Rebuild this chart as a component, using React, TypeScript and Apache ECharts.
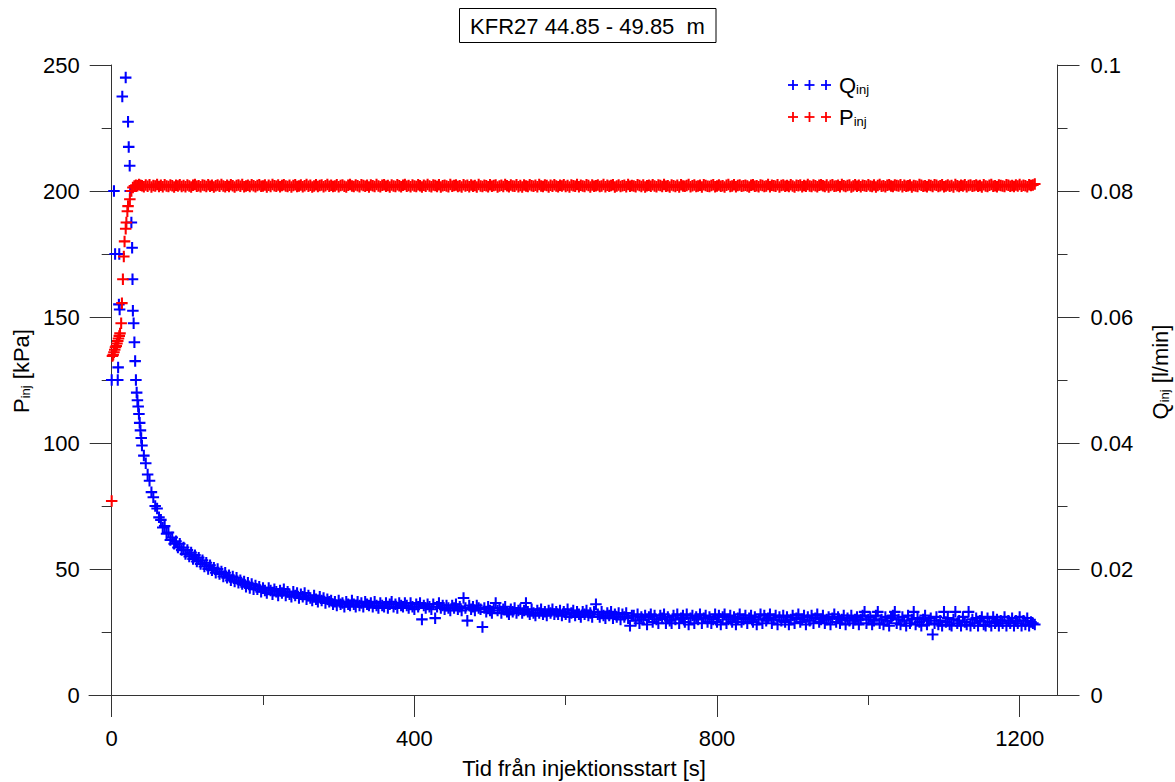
import React, { useEffect, useRef } from "react";
import * as echarts from "echarts";

// ---------- data ----------
const TITLE = "KFR27 44.85 - 49.85  m";
const X_NAME = "Tid från injektionsstart [s]";
const X_MAJOR = [0, 400, 800, 1200];
const X_MINOR = [200, 600, 1000];

// early, irregularly spaced readings (s)
const qEarlyTime = [0, 3, 4.5, 8, 8.5, 9.5, 10, 10.5, 14, 18.5, 21.6, 22.5, 23.8, 24.5, 26, 27, 27.5, 28, 29, 30, 31, 32, 33, 34, 35, 36, 37, 38, 39];
const qEarly = [0.05, 0.08, 0.07, 0.05, 0.052, 0.062, 0.07, 0.0612, 0.095, 0.098, 0.091, 0.087, 0.084, 0.08, 0.075, 0.071, 0.066, 0.061, 0.059, 0.056, 0.053, 0.05, 0.048, 0.0468, 0.0458, 0.0446, 0.0432, 0.042, 0.0408];

const pEarlyTime = [0, 1, 2, 3, 4, 5, 6, 7, 8, 9, 10, 11, 12.5, 13.5, 14.8, 16, 17, 18.5, 19.4, 20.7, 21.6, 24, 26, 28, 30, 32, 34, 36, 38];
const pEarly = [77, 134.5, 135, 136, 137, 138, 138.5, 139.5, 140.5, 141.5, 142.5, 143.5, 147.5, 155.5, 165, 174, 180, 185, 187.5, 192, 194, 196.7, 200, 201.4, 202, 202.3, 202.1, 202.6, 202.3];

// regularly sampled readings from 40 s, every 2.5 s (one row = 50 s)
const TAIL_START = 40;
const TAIL_STEP = 2.5;

const qTail = [
  0.0396, 0.038, 0.0368, 0.035, 0.034, 0.0322, 0.0314, 0.03, 0.0296, 0.0282, 0.0278, 0.0266, 0.0268, 0.0256, 0.0258, 0.0246, 0.025, 0.024, 0.0244, 0.0234,
  0.024, 0.023, 0.0234, 0.0224, 0.023, 0.022, 0.0226, 0.0216, 0.0222, 0.0212, 0.0218, 0.0208, 0.0214, 0.0204, 0.021, 0.02, 0.0206, 0.0198, 0.0202, 0.0194,
  0.02, 0.0192, 0.0196, 0.0188, 0.0194, 0.0186, 0.019, 0.0182, 0.0188, 0.018, 0.0186, 0.0178, 0.0182, 0.0176, 0.018, 0.0172, 0.0178, 0.017, 0.0176, 0.0168,
  0.0174, 0.0168, 0.0172, 0.0164, 0.017, 0.0166, 0.0162, 0.017, 0.0166, 0.016, 0.0168, 0.0164, 0.0158, 0.0166, 0.0162, 0.0168, 0.0158, 0.0164, 0.016, 0.0156,
  0.0164, 0.0158, 0.0162, 0.0154, 0.016, 0.0156, 0.0162, 0.0152, 0.0158, 0.0154, 0.015, 0.0158, 0.0152, 0.0148, 0.0156, 0.015, 0.0154, 0.0146, 0.0152, 0.0148,
  0.015, 0.0144, 0.0148, 0.0142, 0.015, 0.0144, 0.0146, 0.014, 0.0148, 0.0144, 0.0142, 0.015, 0.0144, 0.014, 0.0148, 0.0142, 0.0146, 0.014, 0.0148, 0.0144,
  0.0142, 0.0146, 0.014, 0.0148, 0.0142, 0.0138, 0.0146, 0.0142, 0.014, 0.0146, 0.0138, 0.0144, 0.0148, 0.014, 0.0144, 0.0138, 0.0146, 0.0142, 0.014, 0.0146,
  0.0142, 0.0138, 0.0146, 0.014, 0.0136, 0.0144, 0.014, 0.0146, 0.012, 0.0142, 0.0138, 0.0144, 0.014, 0.0136, 0.0144, 0.0122, 0.014, 0.0146, 0.0138, 0.0142,
  0.0136, 0.0142, 0.0138, 0.0134, 0.0142, 0.0138, 0.0144, 0.0136, 0.014, 0.0134, 0.0154, 0.0138, 0.0118, 0.0142, 0.0136, 0.014, 0.0134, 0.0142, 0.0138, 0.0136,
  0.0108, 0.0138, 0.0132, 0.014, 0.0134, 0.013, 0.0138, 0.0146, 0.0134, 0.0138, 0.013, 0.0136, 0.014, 0.0132, 0.0128, 0.0136, 0.0132, 0.0138, 0.013, 0.0134,
  0.0136, 0.013, 0.0134, 0.0146, 0.0132, 0.0128, 0.0136, 0.013, 0.0126, 0.0134, 0.013, 0.0136, 0.0128, 0.0132, 0.0126, 0.0134, 0.013, 0.0136, 0.0128, 0.0132,
  0.0128, 0.0134, 0.0126, 0.0132, 0.0128, 0.0136, 0.0124, 0.013, 0.0134, 0.0126, 0.0132, 0.0128, 0.0124, 0.0132, 0.0128, 0.0134, 0.0126, 0.013, 0.0124, 0.0132,
  0.0144, 0.0128, 0.0124, 0.0132, 0.0126, 0.0122, 0.013, 0.0126, 0.0132, 0.0122, 0.0128, 0.0124, 0.013, 0.012, 0.0128, 0.0124, 0.013, 0.0122, 0.011, 0.0126,
  0.0126, 0.0118, 0.0128, 0.0114, 0.0124, 0.012, 0.0126, 0.0112, 0.0124, 0.0128, 0.0116, 0.0126, 0.012, 0.0114, 0.0126, 0.0122, 0.0128, 0.0114, 0.0124, 0.0118,
  0.0114, 0.0126, 0.012, 0.0128, 0.0114, 0.0122, 0.0126, 0.0116, 0.0128, 0.0112, 0.0122, 0.0126, 0.0114, 0.0124, 0.012, 0.0128, 0.0114, 0.0122, 0.0126, 0.0116,
  0.0124, 0.0114, 0.012, 0.0128, 0.0116, 0.0126, 0.0112, 0.0124, 0.0128, 0.0114, 0.012, 0.0126, 0.0116, 0.0124, 0.0112, 0.0122, 0.0128, 0.0116, 0.012, 0.0126,
  0.0114, 0.0122, 0.0126, 0.0116, 0.0124, 0.0112, 0.012, 0.0128, 0.0114, 0.0126, 0.0118, 0.0122, 0.0128, 0.0114, 0.012, 0.0126, 0.0112, 0.0124, 0.0118, 0.0126,
  0.0116, 0.0124, 0.0112, 0.012, 0.0126, 0.0114, 0.0122, 0.0128, 0.0116, 0.012, 0.0126, 0.0112, 0.0124, 0.0118, 0.0126, 0.0114, 0.0122, 0.0128, 0.0116, 0.012,
  0.0126, 0.0114, 0.012, 0.0124, 0.0112, 0.0122, 0.0128, 0.0116, 0.0124, 0.0114, 0.012, 0.0126, 0.0112, 0.0122, 0.0118, 0.0126, 0.0114, 0.012, 0.0124, 0.0112,
  0.012, 0.0126, 0.0132, 0.0114, 0.012, 0.0124, 0.0112, 0.0118, 0.0126, 0.0132, 0.0114, 0.012, 0.0112, 0.0124, 0.0118, 0.011, 0.0122, 0.0126, 0.0132, 0.0114,
  0.012, 0.0112, 0.0124, 0.0118, 0.011, 0.0126, 0.0114, 0.012, 0.0132, 0.0112, 0.0122, 0.0116, 0.011, 0.012, 0.0126, 0.0112, 0.0118, 0.0122, 0.0096, 0.0114,
  0.0124, 0.0112, 0.0118, 0.011, 0.0132, 0.0116, 0.0122, 0.0112, 0.011, 0.012, 0.0132, 0.0114, 0.0118, 0.011, 0.0124, 0.0116, 0.0112, 0.0132, 0.011, 0.012,
  0.0114, 0.0122, 0.011, 0.0118, 0.0124, 0.0112, 0.011, 0.0122, 0.0116, 0.011, 0.0124, 0.0114, 0.012, 0.011, 0.0118, 0.0114, 0.0124, 0.011, 0.0118, 0.0114,
  0.0122, 0.011, 0.0118, 0.0114, 0.0124, 0.011, 0.0118, 0.0112, 0.0122, 0.011, 0.0116, 0.0114, 0.0112,
];

const pTail = [
  202.1, 201.7, 202.4, 201.9, 202.5, 201.6, 202.2, 202.0, 202.6, 201.8, 202.3, 201.7, 202.5, 202.0, 201.8, 202.4, 202.1, 201.6, 202.3, 202.0,
  202.5, 201.8, 202.2, 201.7, 202.4, 202.0, 201.6, 202.3, 202.6, 201.9, 202.1, 201.7, 202.4, 202.2, 201.8, 202.5, 201.9, 202.3, 201.6, 202.1,
  202.4, 201.9, 202.6, 202.0, 201.7, 202.3, 201.8, 202.5, 202.1, 201.6, 202.2, 202.4, 201.9, 202.6, 201.7, 202.0, 202.3, 201.8, 202.5, 202.1,
  201.7, 202.2, 202.5, 201.9, 202.0, 202.4, 201.6, 202.3, 201.8, 202.6, 202.1, 201.9, 202.4, 201.7, 202.2, 202.5, 202.0, 201.8, 202.3, 201.6,
  202.2, 202.5, 201.8, 202.0, 202.4, 201.7, 202.1, 202.6, 201.9, 202.3, 201.6, 202.0, 202.5, 201.8, 202.2, 202.4, 201.7, 202.1, 202.6, 201.9,
  202.3, 201.8, 202.0, 202.5, 201.7, 202.2, 202.4, 201.9, 201.6, 202.3, 202.6, 202.0, 201.8, 202.4, 202.1, 201.7, 202.5, 202.2, 201.9, 202.3,
  201.6, 202.4, 202.1, 201.8, 202.6, 202.0, 201.7, 202.3, 202.5, 201.9, 202.2, 201.6, 202.4, 202.0, 201.8, 202.5, 202.1, 201.7, 202.3, 202.6,
  201.9, 202.2, 201.7, 202.4, 202.0, 201.8, 202.5, 202.1, 201.6, 202.3, 201.9, 202.6, 202.0, 201.7, 202.4, 202.2, 201.8, 202.5, 201.6, 202.1,
  202.3, 202.0, 201.7, 202.6, 201.9, 202.2, 202.4, 201.8, 202.1, 201.6, 202.5, 202.0, 202.3, 201.7, 202.4, 201.9, 202.2, 201.6, 202.6, 202.0,
  201.8, 202.3, 202.1, 201.7, 202.5, 201.9, 202.2, 202.4, 201.6, 202.0, 202.3, 201.8, 202.6, 202.1, 201.7, 202.4, 202.0, 201.9, 202.5, 201.7,
  202.2, 201.6, 202.4, 202.0, 201.8, 202.5, 202.1, 201.9, 202.3, 201.7, 202.6, 202.0, 201.8, 202.4, 202.2, 201.6, 202.3, 201.9, 202.5, 202.0,
  201.7, 202.3, 202.0, 202.5, 201.8, 202.2, 201.6, 202.4, 202.1, 201.9, 202.6, 201.7, 202.3, 202.0, 201.8, 202.5, 202.2, 201.6, 202.4, 201.9,
  202.1, 202.4, 201.8, 202.0, 202.6, 201.7, 202.3, 201.9, 202.2, 202.5, 201.6, 202.0, 202.4, 201.8, 202.1, 202.3, 201.7, 202.6, 201.9, 202.2,
  202.0, 201.7, 202.5, 202.2, 201.8, 202.4, 201.6, 202.1, 202.3, 201.9, 202.5, 202.0, 201.7, 202.4, 202.2, 201.8, 202.6, 201.9, 202.1, 201.6,
  202.4, 202.1, 201.8, 202.3, 201.6, 202.5, 202.0, 201.9, 202.2, 202.6, 201.7, 202.1, 202.4, 201.8, 202.0, 202.3, 201.6, 202.5, 202.2, 201.9,
  201.8, 202.2, 202.5, 201.7, 202.0, 202.4, 201.9, 202.1, 201.6, 202.3, 202.6, 201.8, 202.0, 202.5, 201.7, 202.2, 202.4, 201.9, 202.1, 202.3,
  202.0, 201.6, 202.3, 202.5, 201.9, 202.1, 201.7, 202.4, 202.2, 201.8, 202.0, 202.6, 201.7, 202.3, 202.1, 201.9, 202.5, 201.6, 202.2, 202.4,
  201.9, 202.2, 201.8, 202.5, 202.0, 201.6, 202.3, 202.1, 202.4, 201.7, 202.2, 201.9, 202.6, 202.0, 201.8, 202.4, 202.1, 201.7, 202.3, 202.5,
  202.1, 201.8, 202.4, 201.6, 202.2, 202.5, 201.9, 202.0, 202.3, 201.7, 202.6, 202.1, 201.8, 202.2, 202.4, 201.6, 202.0, 202.5, 201.9, 202.3,
  201.7, 202.3, 202.1, 201.9, 202.5, 202.0, 201.8, 202.4, 201.6, 202.2, 202.6, 201.9, 202.1, 201.7, 202.3, 202.5, 202.0, 201.8, 202.4, 202.2,
  202.0, 202.5, 201.7, 202.3, 201.9, 202.1, 202.4, 201.6, 202.2, 202.0, 201.8, 202.6, 202.3, 201.9, 202.1, 201.7, 202.4, 202.2, 201.8, 202.5,
  202.3, 201.8, 202.1, 202.5, 201.7, 202.0, 202.4, 201.9, 202.2, 201.6, 202.6, 202.1, 201.8, 202.3, 202.0, 202.5, 201.7, 202.2, 202.4, 201.9,
  202.1, 202.4, 201.9, 202.2, 201.6, 202.5, 202.0, 201.8, 202.3, 202.6, 201.9, 202.1, 201.7, 202.4, 202.2, 202.0, 201.8, 202.5, 202.3, 201.9,
  202.2, 201.8, 202.4, 202.0, 202.6, 201.9, 202.3, 202.1, 201.7, 202.5, 202.2, 202.4, 202.8,
];

// ---------- styles ----------
const FONT = '"Liberation Sans", Arial, Helvetica, sans-serif';
const AXIS_COLOR = "#333333";
const BLUE = "#0000ff";
const RED = "#ff0000";
const PLUS = "path://M4.1,0H5.9V4.1H10V5.9H5.9V10H4.1V5.9H0V4.1H4.1Z";

const plusMark = (cx: number, cy: number, color: string) => [
  { type: "rect", shape: { x: cx - 5, y: cy - 0.9, width: 10, height: 1.8 }, style: { fill: color } },
  { type: "rect", shape: { x: cx - 0.9, y: cy - 5, width: 1.8, height: 10 }, style: { fill: color } },
];

const richSub = {
  m: { fontSize: 22, fontFamily: FONT, fill: "#000" },
  s: { fontSize: 13, fontFamily: FONT, fill: "#000", verticalAlign: "bottom", padding: [8, 0, 0, 0] },
};

export default function App() {
  const ref = useRef<HTMLDivElement>(null);

  useEffect(() => {
    if (!ref.current) return;
    const chart = echarts.init(ref.current, null, { renderer: "svg" });

    const qData = qEarlyTime
      .map((t, i) => [t, qEarly[i]])
      .concat(qTail.map((v, i) => [TAIL_START + i * TAIL_STEP, v]));
    const pData = pEarlyTime
      .map((t, i) => [t, pEarly[i]])
      .concat(pTail.map((v, i) => [TAIL_START + i * TAIL_STEP, v]));

    const labelStyle = { color: "#000", fontSize: 22, fontFamily: FONT };

    chart.setOption({
      animation: false,
      backgroundColor: "#ffffff",
      grid: { left: 89, right: 117.5, top: 65, bottom: 87, outerBoundsMode: "none", containLabel: false },
      xAxis: [
        {
          type: "value",
          min: -30,
          max: 1250,
          position: "bottom",
          axisLine: { show: true, onZero: false, lineStyle: { color: AXIS_COLOR, width: 1 } },
          axisTick: { show: true, customValues: X_MAJOR, length: 22, lineStyle: { color: AXIS_COLOR } },
          axisLabel: { ...labelStyle, customValues: X_MAJOR, margin: 32, formatter: (v: number) => String(v) },
          splitLine: { show: false },
        },
        {
          type: "value",
          min: -30,
          max: 1250,
          position: "bottom",
          offset: 0,
          axisLine: { show: false, onZero: false },
          axisTick: { show: true, customValues: X_MINOR, length: 10, lineStyle: { color: AXIS_COLOR } },
          axisLabel: { show: false },
          splitLine: { show: false },
        },
      ],
      yAxis: [
        {
          type: "value",
          min: 0,
          max: 250,
          interval: 50,
          position: "left",
          offset: -22.7,
          axisLine: { show: true, onZero: false, lineStyle: { color: AXIS_COLOR, width: 1 } },
          axisTick: { show: true, length: 22, lineStyle: { color: AXIS_COLOR } },
          minorTick: { show: true, splitNumber: 2, length: 10, lineStyle: { color: AXIS_COLOR } },
          axisLabel: { ...labelStyle, margin: 32 },
          splitLine: { show: false },
          minorSplitLine: { show: false },
        },
        {
          type: "value",
          min: 0,
          max: 0.1,
          interval: 0.02,
          position: "right",
          axisLine: { show: true, onZero: false, lineStyle: { color: AXIS_COLOR, width: 1 } },
          axisTick: { show: true, length: 22, lineStyle: { color: AXIS_COLOR } },
          minorTick: { show: true, splitNumber: 2, length: 10, lineStyle: { color: AXIS_COLOR } },
          axisLabel: { ...labelStyle, margin: 33 },
          splitLine: { show: false },
          minorSplitLine: { show: false },
        },
      ],
      series: [
        {
          name: "Qinj",
          type: "scatter",
          xAxisIndex: 0,
          yAxisIndex: 1,
          symbol: PLUS,
          symbolSize: 11.5,
          itemStyle: { color: BLUE, opacity: 1 },
          data: qData,
        },
        {
          name: "Pinj",
          type: "scatter",
          xAxisIndex: 0,
          yAxisIndex: 0,
          symbol: PLUS,
          symbolSize: 11.5,
          itemStyle: { color: RED, opacity: 1 },
          data: pData,
        },
      ],
      graphic: [
        {
          type: "rect",
          shape: { x: 459.5, y: 8.5, width: 256.5, height: 34 },
          style: { fill: "#ffffff", stroke: "#000", lineWidth: 1 },
        },
        {
          type: "text",
          x: 587.5,
          y: 26,
          style: { text: TITLE, fontSize: 22, fontFamily: FONT, fill: "#000", align: "center", verticalAlign: "middle" },
        },
        {
          type: "text",
          x: 584,
          y: 768,
          style: { text: X_NAME, fontSize: 22, fontFamily: FONT, fill: "#000", align: "center", verticalAlign: "middle" },
        },
        {
          type: "text",
          x: 21,
          y: 371,
          rotation: Math.PI / 2,
          style: { text: "{m|P}{s|inj}{m| [kPa]}", rich: richSub, align: "center", verticalAlign: "middle" },
        },
        {
          type: "text",
          x: 1160,
          y: 372,
          rotation: Math.PI / 2,
          style: { text: "{m|Q}{s|inj}{m| [l/min]}", rich: richSub, align: "center", verticalAlign: "middle" },
        },
        ...plusMark(793, 85, BLUE),
        ...plusMark(809.5, 85, BLUE),
        ...plusMark(826, 85, BLUE),
        ...plusMark(793, 117, RED),
        ...plusMark(809.5, 117, RED),
        ...plusMark(826, 117, RED),
        {
          type: "text",
          x: 839,
          y: 85,
          style: { text: "{m|Q}{s|inj}", rich: richSub, align: "left", verticalAlign: "middle" },
        },
        {
          type: "text",
          x: 839,
          y: 117,
          style: { text: "{m|P}{s|inj}", rich: richSub, align: "left", verticalAlign: "middle" },
        },
      ],
    });

    return () => chart.dispose();
  }, []);

  return (
    <div
      ref={ref}
      style={{ position: "fixed", left: 0, top: 0, width: 1175, height: 782, background: "#fff" }}
    />
  );
}
